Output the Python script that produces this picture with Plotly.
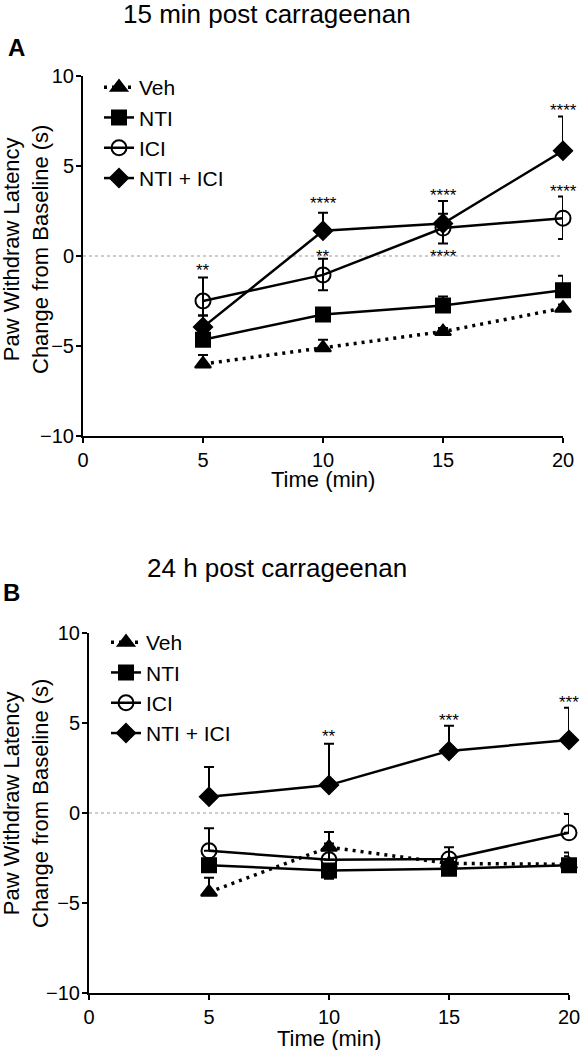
import plotly.graph_objects as go

W, H = 582, 1050
FONT = "Arial, Liberation Sans, Helvetica, sans-serif"

time = [5, 10, 15, 20]
groups = ["Veh", "NTI", "ICI", "NTI + ICI"]

# Panel A: 15 min post carrageenan
A_veh = [-6.0, -5.1, -4.2, -2.9]
A_veh_up = [0.5, 0.45, 0.2, 0.2]
A_veh_dn = [0, 0, 0, 0]
A_nti = [-4.65, -3.25, -2.75, -1.9]
A_nti_up = [0.3, 0.25, 0.5, 0.8]
A_nti_dn = [0, 0, 0, 0]
A_ici = [-2.5, -1.05, 1.55, 2.1]
A_ici_up = [1.3, 0.9, 0.8, 1.2]
A_ici_dn = [0.8, 0.85, 0.85, 1.15]
A_combo = [-3.95, 1.4, 1.8, 5.85]
A_combo_up = [0.65, 1.0, 1.25, 1.9]
A_combo_dn = [0, 0, 0, 0]

# Panel B: 24 h post carrageenan
B_veh = [-4.4, -1.9, -2.8, -2.85]
B_veh_up = [0.8, 0.85, 0.2, 0.65]
B_veh_dn = [0, 0, 0, 0]
B_nti = [-2.9, -3.2, -3.1, -2.9]
B_nti_up = [0.3, 0.3, 0.2, 0.5]
B_nti_dn = [0.3, 0.45, 0.2, 0.3]
B_ici = [-2.1, -2.6, -2.55, -1.1]
B_ici_up = [1.25, 0.9, 0.65, 1.05]
B_ici_dn = [0, 0, 0, 0]
B_combo = [0.9, 1.55, 3.45, 4.05]
B_combo_up = [1.65, 2.3, 1.4, 1.8]
B_combo_dn = [0, 0, 0, 0]

# Significance labels
A_star_x = [5, 10, 10, 15, 15, 20, 20]
A_star_y = [-0.8, 0.0, 2.9, 3.35, 0.0, 8.1, 3.6]
A_star_t = ["**", "**", "****", "****", "****", "****", "****"]
B_star_x = [10, 15, 20]
B_star_y = [4.25, 5.15, 6.15]
B_star_t = ["**", "***", "***"]

x_ticks = [0, 5, 10, 15, 20]
y_ticks = [-10, -5, 0, 5, 10]


def px(x):
    return x / W


def py(y):
    return 1 - y / H


styles = {
    "Veh": dict(symbol="triangle-up", size=14, dash="3px,5px", width=3.5),
    "NTI": dict(symbol="square", size=14, dash="solid", width=2.5),
    "ICI": dict(symbol="circle-open", size=15, dash="solid", width=2.5),
    "NTI + ICI": dict(symbol="diamond", size=14, dash="solid", width=2.5),
}

fig = go.Figure()

panels = [
    ("x", "y", "legend", [(A_veh, A_veh_up, A_veh_dn), (A_nti, A_nti_up, A_nti_dn),
                          (A_ici, A_ici_up, A_ici_dn), (A_combo, A_combo_up, A_combo_dn)]),
    ("x2", "y2", "legend2", [(B_veh, B_veh_up, B_veh_dn), (B_nti, B_nti_up, B_nti_dn),
                             (B_ici, B_ici_up, B_ici_dn), (B_combo, B_combo_up, B_combo_dn)]),
]

for xa, ya, lg, series in panels:
    for name, (vals, up, dn) in zip(groups, series):
        st = styles[name]
        fig.add_trace(go.Scatter(
            x=time, y=vals, name=name, xaxis=xa, yaxis=ya, legend=lg,
            mode="lines+markers", cliponaxis=False,
            line=dict(color="black", width=st["width"], dash=st["dash"]),
            marker=dict(symbol=st["symbol"], size=st["size"], color="black",
                        line=dict(color="black", width=2)),
            error_y=dict(type="data", symmetric=False, array=up, arrayminus=dn,
                         color="black", thickness=2, width=5),
        ))

# star annotations
for xs, ys, ts, xr, yr in [(A_star_x, A_star_y, A_star_t, "x", "y"),
                           (B_star_x, B_star_y, B_star_t, "x2", "y2")]:
    for sx, sy, stt in zip(xs, ys, ts):
        fig.add_annotation(x=sx, y=sy, xref=xr, yref=yr, text=stt, showarrow=False,
                           font=dict(size=17, color="black", family=FONT),
                           xanchor="center", yanchor="middle")

axis_common = dict(showline=True, linewidth=2, linecolor="black", ticks="outside",
                   ticklen=5, tickwidth=2, tickcolor="black", showgrid=False,
                   zeroline=False, automargin=False,
                   tickfont=dict(size=20, color="black", family=FONT))
x_common = dict(axis_common, ticklabelstandoff=0)
y_common = dict(axis_common, ticklabelstandoff=-2)

fig.update_layout(
    width=W, height=H, template="none",
    paper_bgcolor="white", plot_bgcolor="white",
    margin=dict(l=0, r=0, t=0, b=0),
    font=dict(family=FONT, color="black"),
    xaxis=dict(domain=[px(83), px(563)], range=[0, 20], tickvals=x_ticks, anchor="y", **x_common),
    yaxis=dict(domain=[py(436), py(76)], range=[-10, 10], tickvals=y_ticks, anchor="x", **y_common),
    xaxis2=dict(domain=[px(89), px(569)], range=[0, 20], tickvals=x_ticks, anchor="y2", **x_common),
    yaxis2=dict(domain=[py(993), py(633)], range=[-10, 10], tickvals=y_ticks, anchor="x2", **y_common),
    legend=dict(x=px(99), y=py(67), xanchor="left", yanchor="top", bgcolor="rgba(0,0,0,0)",
                font=dict(size=21, color="black", family=FONT), tracegroupgap=0),
    legend2=dict(x=px(106), y=py(622), xanchor="left", yanchor="top", bgcolor="rgba(0,0,0,0)",
                 font=dict(size=21, color="black", family=FONT), tracegroupgap=0),
    showlegend=True,
)

# dotted zero lines
for xr, yr in [("x", "y"), ("x2", "y2")]:
    fig.add_shape(type="line", xref=xr, yref=yr, x0=0, x1=20, y0=0, y1=0,
                  line=dict(color="#999999", width=1, dash="dot"), layer="below")

# titles, panel labels and axis titles
texts = [
    ("15 min post carrageenan", 267, 14, 26, 0),
    ("24 h post carrageenan", 277, 568, 26, 0),
    ("<b>A</b>", 16, 47, 24, 0),
    ("<b>B</b>", 11, 592, 24, 0),
    ("Time (min)", 323, 480, 22, 0),
    ("Time (min)", 329, 1038, 22, 0),
    ("Paw Withdraw Latency<br>Change from Baseline (s)", 26, 250, 22, -90),
    ("Paw Withdraw Latency<br>Change from Baseline (s)", 26, 804, 22, -90),
]
for t, x, y, s, ang in texts:
    fig.add_annotation(x=px(x), y=py(y), xref="paper", yref="paper", text=t,
                       showarrow=False, xanchor="center", yanchor="middle", textangle=ang,
                       font=dict(size=s, color="black", family=FONT))

fig.write_html("out.html", config={"displayModeBar": False},
               post_script="document.body.style.margin='0px';")
